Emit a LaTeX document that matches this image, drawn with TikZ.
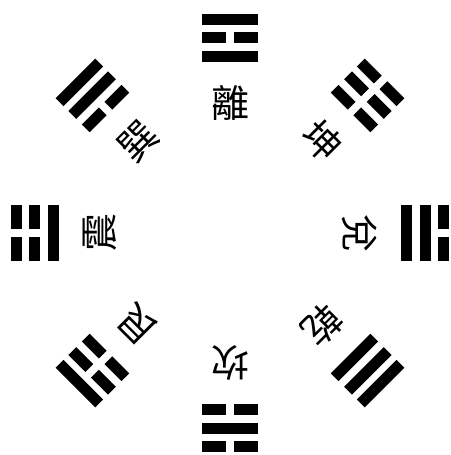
\documentclass[tikz,border=0pt]{standalone}
\usepackage{fontspec}
\newfontfamily\cjk{Noto Sans CJK TC}
\begin{document}
\begin{tikzpicture}[x=1pt,y=1pt,
  yao/.style={fill=black},
  gua/.style={font=\cjk\fontsize{38}{38}\selectfont, inner sep=0pt}]
\useasboundingbox[fill=white] (-230,-222) rectangle (220,233);
\coordinate (O) at (0,0);
\foreach \ang/\la/\lb/\lc/\ch [count=\n] in {90/1/0/1/離, 45/0/0/0/坤, 0/1/1/0/兌, -45/1/1/1/乾, -90/0/1/0/坎, -135/0/0/1/艮, 180/1/0/0/震, 135/0/1/1/巽}{
  \begin{scope}[rotate=\ang-90]
    \foreach \r/\s in {176/\la,195/\lb,213/\lc}{
      \ifnum\s=1
        \fill[yao] (-28,\r-5.5) rectangle (28,\r+5.5);
      \else
        \fill[yao] (-28,\r-5.5) rectangle (-4,\r+5.5);
        \fill[yao] (4,\r-5.5) rectangle (28,\r+5.5);
      \fi
    }
  \end{scope}
  \node[gua, rotate=\ang-90] (g\n) at (\ang:130) {\ch};
}
\end{tikzpicture}
\end{document}
